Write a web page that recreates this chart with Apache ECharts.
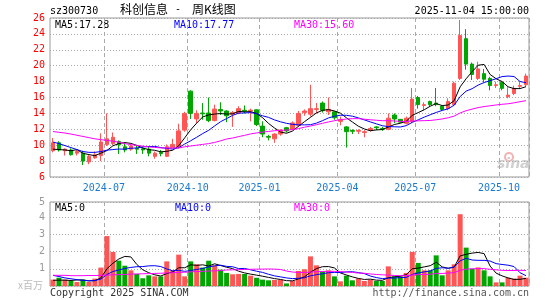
<!DOCTYPE html>
<html>
<head>
<meta charset="utf-8">
<script src="https://cdn.jsdelivr.net/npm/echarts@6/dist/echarts.min.js"></script>
<style>
  html, body { margin: 0; padding: 0; background: #fff; }
  #container { width: 545px; height: 300px; }
</style>
</head>
<body>
<div id="container"></div>
<script>
// 周K线：每周最后一个交易日
var dates = [
  '2024-04-30','2024-05-10','2024-05-17','2024-05-24','2024-05-31','2024-06-07','2024-06-14','2024-06-21','2024-06-28','2024-07-05',
  '2024-07-12','2024-07-19','2024-07-26','2024-08-02','2024-08-09','2024-08-16','2024-08-23','2024-08-30','2024-09-06','2024-09-13',
  '2024-09-20','2024-09-27','2024-09-30','2024-10-11','2024-10-18','2024-10-25','2024-11-01','2024-11-08','2024-11-15','2024-11-22',
  '2024-11-29','2024-12-06','2024-12-13','2024-12-20','2024-12-27','2025-01-03','2025-01-10','2025-01-17','2025-01-24','2025-01-27',
  '2025-02-07','2025-02-14','2025-02-21','2025-02-28','2025-03-07','2025-03-14','2025-03-21','2025-03-28','2025-04-03','2025-04-11',
  '2025-04-18','2025-04-25','2025-04-30','2025-05-09','2025-05-16','2025-05-23','2025-05-30','2025-06-06','2025-06-13','2025-06-20',
  '2025-06-27','2025-07-04','2025-07-11','2025-07-18','2025-07-25','2025-08-01','2025-08-08','2025-08-15','2025-08-22','2025-08-29',
  '2025-09-05','2025-09-12','2025-09-19','2025-09-26','2025-09-30','2025-10-10','2025-10-17','2025-10-24','2025-10-31','2025-11-04'
];
var tickLabels = ['2024-07', '2024-10', '2025-01', '2025-04', '2025-07', '2025-10'];

var opens = [9.3,10.3,9.3,9.4,9.0,9.0,7.9,8.4,8.7,10.1, 10.2,10.45,9.8,9.5,9.6,9.55,9.5,8.6,9.1,8.6,
  9.7,9.8,11.9,16.8,13.3,14.05,14.05,13.1,14.5,14.3, 13.9,14.05,14.4,14.3,14.45,12.4,11.1,10.8,11.4,12.2,
  12.0,12.5,14.1,13.9,14.5,15.3,14.2,14.2,13.0,12.3, 11.85,11.75,11.6,11.9,12.3,12.1,12.0,13.8,13.25,12.75,
  12.96,16.0,15.0,15.5,15.3,14.9,14.6,15.1,18.4,23.4, 20.2,18.4,19.0,18.4,17.5,17.9,16.1,16.5,17.4,17.6];
var closes = [10.3,9.4,9.5,8.8,9.2,8.0,8.6,8.8,10.4,10.8, 11.0,10.05,9.4,9.9,9.5,9.4,9.0,9.0,8.95,9.8,
  10.1,11.8,14.0,14.0,14.0,13.95,13.1,14.55,14.3,13.7, 14.1,14.6,14.3,14.4,12.6,11.4,11.0,11.4,11.9,11.8,
  12.8,14.0,14.3,14.6,14.6,14.4,14.5,13.45,13.2,11.7, 11.75,11.85,11.7,12.1,12.2,12.0,13.4,13.3,12.9,13.4,
  15.8,15.1,15.1,15.1,15.1,14.5,15.5,17.8,23.8,20.2, 18.9,19.6,18.3,17.5,17.6,17.15,16.3,17.15,17.5,18.7];
var lows = [9.1,9.2,8.7,8.7,8.7,7.5,7.6,8.3,8.0,9.9, 10.0,8.9,9.1,9.3,8.9,8.9,8.6,8.3,8.6,8.5,
  9.6,9.6,11.7,13.3,12.8,13.2,12.9,13.0,13.8,12.9, 12.3,13.9,14.0,13.0,12.4,11.0,10.6,10.3,11.2,11.6,
  11.9,12.3,13.7,13.6,14.0,14.1,13.8,13.2,12.5,9.7, 11.4,11.4,11.0,11.7,11.9,11.8,11.9,12.8,12.8,12.6,
  12.8,14.6,14.4,14.9,14.9,14.3,14.4,15.0,18.2,19.5, 18.2,18.2,17.9,16.9,17.2,16.9,15.9,16.3,17.1,17.4];
var highs = [10.9,10.5,9.6,9.6,9.4,9.3,8.8,9.2,11.5,14.0, 11.6,10.6,10.3,10.1,9.9,9.8,9.9,9.2,9.4,10.1,
  10.8,12.7,14.2,16.9,14.4,15.3,16.0,15.1,15.4,14.4, 14.3,14.9,15.0,14.6,14.5,13.0,11.3,11.5,12.0,12.3,
  13.0,14.3,14.5,17.6,15.3,15.5,16.0,14.3,13.6,12.4, 12.0,12.0,11.9,12.3,12.4,12.3,14.0,14.0,13.3,13.6,
  17.2,16.2,15.4,15.6,17.2,15.0,15.9,18.0,25.75,24.6, 20.4,20.5,19.6,18.6,18.0,18.0,17.3,17.5,18.0,19.0];

var ma5 = [9.5,9.45,9.4,9.3,9.44,8.98,8.82,8.68,9.0,9.32, 9.92,10.21,10.33,10.23,9.97,9.65,9.44,9.36,9.17,9.23,
  9.37,9.93,10.93,11.94,12.78,13.55,13.81,13.92,13.98,13.92, 13.95,14.25,14.2,14.22,14.0,13.46,12.74,12.16,11.66,11.5,
  11.78,12.38,12.96,13.5,14.06,14.38,14.48,14.31,14.03,13.45, 12.92,12.39,12.04,11.82,11.92,11.97,12.28,12.6,12.76,13.0,
  13.76,14.1,14.46,14.9,15.24,14.98,15.06,15.6,17.34,18.36, 19.24,20.06,20.16,18.9,18.36,18.01,17.35,17.12,17.12,17.36];
var ma10 = [10.4,10.2,9.95,9.7,9.45,9.2,9.1,9.1,9.2,9.38, 9.45,9.52,9.5,9.62,9.65,9.79,9.83,9.85,9.7,9.6,
  9.51,9.69,10.15,10.56,11.0,11.46,11.87,12.43,12.96,13.35, 13.75,14.03,14.06,14.1,13.96,13.7,13.5,13.18,12.94,12.75,
  12.62,12.56,12.56,12.58,12.78,13.08,13.43,13.64,13.77,13.76, 13.65,13.44,13.18,12.93,12.69,12.45,12.34,12.32,12.29,12.46,
  12.87,13.19,13.53,13.83,14.12,14.37,14.58,15.03,16.12,16.8, 17.11,17.56,17.88,18.12,18.36,18.63,18.7,18.64,18.01,17.86];
var ma30 = [11.72,11.62,11.53,11.4,11.25,11.1,10.95,10.8,10.7,10.6, 10.5,10.38,10.2,10.07,9.98,9.88,9.78,9.72,9.66,9.65,
  9.65,9.65,9.8,9.9,10.0,10.1,10.2,10.35,10.55,10.78, 10.9,11.08,11.24,11.42,11.54,11.65,11.73,11.82,11.87,11.9,
  11.96,12.09,12.26,12.41,12.58,12.75,12.93,13.08,13.22,13.29, 13.34,13.34,13.27,13.2,13.14,13.08,13.09,13.05,13.0,12.99,
  13.05,13.06,13.09,13.11,13.2,13.3,13.45,13.66,14.06,14.34, 14.54,14.73,14.86,14.96,15.06,15.15,15.21,15.33,15.47,15.6];

// 成交量（百万）
var volumes = [0.37,0.48,0.37,0.29,0.23,0.37,0.23,0.43,1.07,2.9, 1.98,1.47,1.18,0.91,0.70,0.45,0.62,0.56,0.56,1.43,
  0.91,1.82,0.56,1.43,1.26,1.07,1.47,1.2,0.95,0.76, 0.68,0.70,0.70,0.6,0.48,0.37,0.33,0.35,0.37,0.15,
  0.29,0.87,0.97,1.72,1.2,0.85,0.91,0.56,0.27,0.6, 0.33,0.43,0.29,0.37,0.29,0.29,1.14,0.56,0.56,0.76,
  1.98,1.34,0.91,0.91,1.78,0.62,0.91,1.26,4.17,2.23, 1.0,1.08,0.91,0.56,0.21,0.21,0.48,0.43,0.6,0.48];
var volMa5 = [0.33,0.34,0.34,0.32,0.35,0.35,0.3,0.31,0.47,1.0, 1.32,1.57,1.72,1.69,1.25,0.94,0.77,0.65,0.58,0.72,
  0.82,1.06,1.06,1.23,1.2,1.23,1.16,1.29,1.19,1.09, 1.01,0.86,0.76,0.69,0.63,0.57,0.5,0.43,0.38,0.31,
  0.3,0.41,0.53,0.8,1.01,1.12,1.13,1.05,0.76,0.64, 0.53,0.44,0.38,0.4,0.34,0.33,0.48,0.53,0.57,0.66,
  1.0,1.04,1.11,1.18,1.38,1.11,1.03,1.1,1.75,1.84, 1.91,1.95,1.88,1.16,0.75,0.59,0.47,0.38,0.39,0.44];
var volMa10 = [0.62,0.55,0.47,0.42,0.37,0.33,0.3,0.32,0.4,0.67, 0.84,0.93,1.02,1.08,1.12,1.13,1.17,1.18,1.13,0.99,
  0.88,0.91,0.85,0.9,0.96,1.02,1.11,1.17,1.21,1.14, 1.12,1.01,1.02,0.94,0.86,0.79,0.68,0.59,0.53,0.47,
  0.43,0.45,0.48,0.59,0.66,0.71,0.77,0.79,0.78,0.82, 0.83,0.78,0.72,0.58,0.49,0.43,0.46,0.46,0.49,0.5,
  0.67,0.76,0.82,0.87,1.02,1.06,1.03,1.1,1.46,1.61, 1.51,1.49,1.49,1.45,1.3,1.25,1.21,1.13,0.77,0.6];
var volMa30 = [0.62,0.62,0.62,0.6,0.6,0.6,0.61,0.61,0.62,0.63, 0.65,0.66,0.67,0.69,0.7,0.71,0.72,0.73,0.74,0.76,
  0.77,0.79,0.8,0.82,0.84,0.85,0.87,0.88,0.9,0.93, 0.94,0.95,0.96,0.97,0.98,0.98,0.99,0.98,0.96,0.87,
  0.81,0.79,0.78,0.81,0.83,0.84,0.85,0.85,0.84,0.81, 0.79,0.75,0.74,0.7,0.67,0.65,0.63,0.61,0.6,0.6,
  0.64,0.66,0.67,0.68,0.73,0.73,0.75,0.78,0.91,0.98, 1.0,1.01,1.01,0.97,0.94,0.91,0.9,0.9,0.91,0.9];

var UP = '#ff5555', DOWN = '#00a600';
var mono = 'DejaVu Sans Mono';

// 月份刻度放在该月第一根K线
var labelMap = {};
tickLabels.forEach(function (t) {
  for (var i = 0; i < dates.length; i++) {
    if (dates[i].indexOf(t) === 0) { labelMap[i] = t; break; }
  }
});
function isTick(i) { return labelMap[i] !== undefined; }

var kData = opens.map(function (o, i) { return [o, closes[i], lows[i], highs[i]]; });
var volData = volumes.map(function (v, i) {
  return { value: v, itemStyle: { color: closes[i] >= opens[i] ? UP : DOWN } };
});

function maLine(data, color, xi, yi) {
  return {
    type: 'line', data: data, xAxisIndex: xi, yAxisIndex: yi,
    showSymbol: false, symbol: 'none', silent: true,
    lineStyle: { width: 1, color: color }, z: 5
  };
}
function txt(opt, text, color, font) {
  opt.type = 'text';
  opt.style = { text: text, fill: color, font: font || ('10px ' + mono) };
  return opt;
}

var option = {
  backgroundColor: '#fff',
  animation: false,
  grid: [
    { left: 50, top: 18, width: 479, height: 159, show: true, borderColor: '#999', borderWidth: 1 },
    { left: 50, top: 202, width: 479, height: 84, show: true, borderColor: '#999', borderWidth: 1 }
  ],
  xAxis: [
    {
      type: 'category', gridIndex: 0, data: dates, boundaryGap: true,
      axisLine: { show: false }, axisTick: { show: false },
      axisLabel: {
        interval: isTick, formatter: function (v, i) { return labelMap[i] || ''; },
        color: '#1a7ad0', fontFamily: mono, fontSize: 10, margin: 6, padding: [0, 6, 0, 0]
      },
      splitLine: { show: true, interval: isTick, lineStyle: { color: '#aaa', type: [4, 3] } }
    },
    {
      type: 'category', gridIndex: 1, data: dates, boundaryGap: true,
      axisLine: { show: false }, axisTick: { show: false }, axisLabel: { show: false },
      splitLine: { show: true, interval: isTick, lineStyle: { color: '#aaa', type: [4, 3] } }
    }
  ],
  yAxis: [
    {
      type: 'value', gridIndex: 0, min: 6, max: 26, interval: 2,
      axisLine: { show: false }, axisTick: { show: false },
      axisLabel: { color: '#ff0000', fontFamily: mono, fontSize: 10, margin: 5 },
      splitLine: { lineStyle: { color: '#aaa', type: [1, 2] } }
    },
    {
      type: 'value', gridIndex: 1, min: 0, max: 4.88, interval: 1,
      axisLine: { show: false }, axisTick: { show: false },
      axisLabel: {
        color: '#999', fontFamily: mono, fontSize: 10, margin: 5,
        formatter: function (v) { return v === 0 ? '' : (v > 4.5 ? '5' : String(v)); }
      },
      splitLine: { lineStyle: { color: '#aaa', type: [1, 2] } }
    }
  ],
  series: [
    {
      type: 'candlestick', data: kData, xAxisIndex: 0, yAxisIndex: 0, barWidth: 4,
      itemStyle: { color: UP, color0: DOWN, borderColor: UP, borderColor0: DOWN, borderWidth: 1 }
    },
    maLine(ma5, '#000', 0, 0),
    maLine(ma10, '#0000ff', 0, 0),
    maLine(ma30, '#ff00ff', 0, 0),
    { type: 'bar', data: volData, xAxisIndex: 1, yAxisIndex: 1, barWidth: 5 },
    maLine(volMa5, '#000', 1, 1),
    maLine(volMa10, '#0000ff', 1, 1),
    maLine(volMa30, '#ff00ff', 1, 1)
  ],
  graphic: [
    txt({ left: 50, top: 6 }, 'sz300730', '#000'),
    txt({ left: 120, top: 3 }, '科创信息', '#000', '12px "Noto Sans CJK SC"'),
    txt({ left: 175, top: 4 }, '-', '#000'),
    txt({ left: 192, top: 3 }, '周K线图', '#000', '12px "Noto Sans CJK SC"'),
    txt({ right: 16, top: 6 }, '2025-11-04 15:00:00', '#000'),
    txt({ left: 55, top: 20 }, 'MA5:17.28', '#000'),
    txt({ left: 174, top: 20 }, 'MA10:17.77', '#0000ff'),
    txt({ left: 294, top: 20 }, 'MA30:15.60', '#ff00ff'),
    txt({ left: 55, top: 203 }, 'MA5:0', '#000'),
    txt({ left: 175, top: 203 }, 'MA10:0', '#0000ff'),
    txt({ left: 294, top: 203 }, 'MA30:0', '#ff00ff'),
    txt({ left: 18, top: 280 }, 'x百万', '#bbb', '10px "Noto Sans CJK SC"'),
    txt({ left: 50, top: 288 }, 'Copyright 2025 SINA.COM', '#333'),
    txt({ right: 16, top: 288 }, 'http://finance.sina.com.cn', '#555'),
    { type: 'circle', shape: { cx: 509, cy: 157, r: 4 }, style: { fill: 'none', stroke: '#f2b3b3', lineWidth: 2 } },
    txt({ left: 497, top: 157 }, 'sina', '#d0d0d0', 'italic bold 14px "DejaVu Sans"')
  ]
};

var myChart = echarts.init(document.getElementById('container'));
myChart.setOption(option);
</script>
</body>
</html>
